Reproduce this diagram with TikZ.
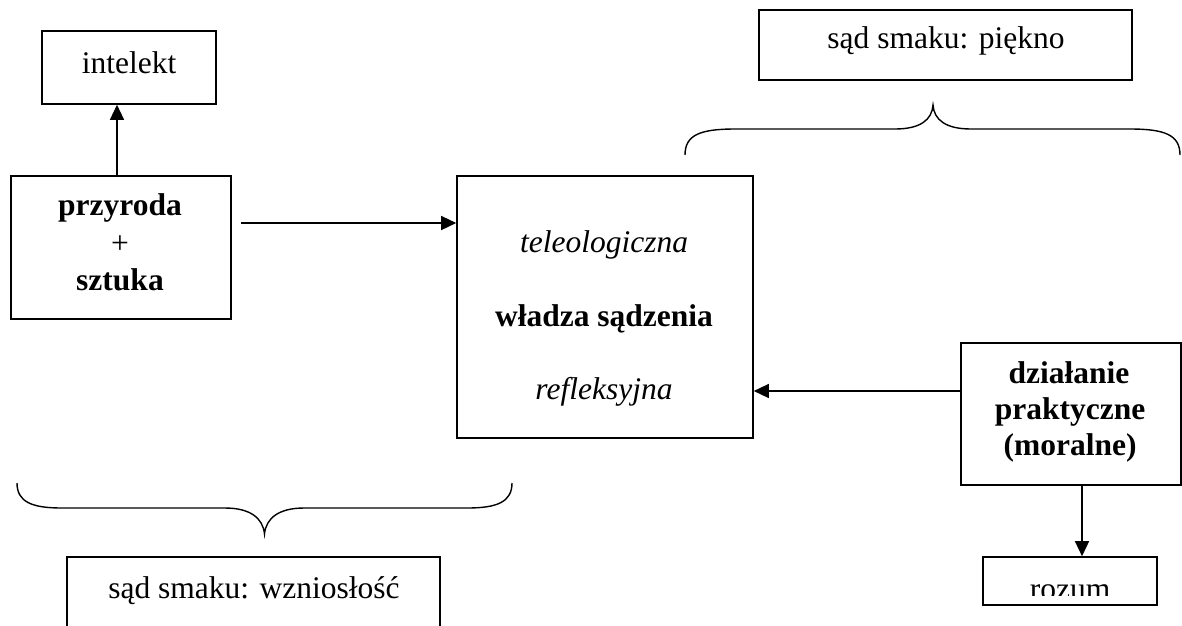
\documentclass[tikz,border=0pt]{standalone}
\usepackage{fontspec}
\setmainfont{Liberation Serif}
\usetikzlibrary{arrows.meta}
\begin{document}
\begin{tikzpicture}[x=1pt,y=-1pt,
  box/.style={draw, line width=1.6pt, rectangle, inner sep=0pt},
  txt/.style={anchor=base, inner sep=0pt, font=\fontsize{31.5}{36}\selectfont},
  conn/.style={line width=1.4pt, -{Triangle[length=15pt,width=14pt]}},
  brace/.style={line width=1.4pt}]
\useasboundingbox (0,0) rectangle (1182,625);
\clip (0,0) rectangle (1182,625);

% boxes
\node[box, minimum width=174pt, minimum height=73pt] (intelekt) at (129,67.5) {};
\node[box, minimum width=220pt, minimum height=143pt] (przyroda) at (121,247.5) {};
\node[box, minimum width=296pt, minimum height=262pt] (wladza) at (605,307) {};
\node[box, minimum width=220pt, minimum height=142pt] (dzialanie) at (1071,414) {};
\node[box, minimum width=174pt, minimum height=48pt] (rozum) at (1070,581) {};
\node[box, minimum width=373pt, minimum height=70pt] (piekno) at (945.5,45) {};
\node[box, minimum width=373pt, minimum height=143pt] (wzniosl) at (253.5,628.5) {};

% texts
\node[txt] (tintelekt) at (129,73) {intelekt};
\node[txt] (tprz1) at (120,215) {\textbf{przyroda}};
\node[txt] (tprz2) at (120,253) {+};
\node[txt] (tprz3) at (120,290) {\textbf{sztuka}};
\node[txt] (tw1) at (604,252) {\textit{teleologiczna}};
\node[txt] (tw2) at (604,326) {\textbf{władza sądzenia}};
\node[txt] (tw3) at (604,399) {\textit{refleksyjna}};
\node[txt] (td1) at (1069,383) {\textbf{działanie}};
\node[txt] (td2) at (1070,419) {\textbf{praktyczne}};
\node[txt] (td3) at (1070,455) {\textbf{(moralne)}};
\node[txt] (tpiekno) at (946,48) {sąd smaku: piękno};
\node[txt] (twzn) at (254,598) {sąd smaku: wzniosłość};
\begin{scope}
  \clip (983,557) rectangle (1157,595);
  \node[txt] (trozum) at (1070,599) {rozum};
\end{scope}

% connectors
\draw[conn] ([xshift=-4pt]przyroda.north) coordinate (s0) -- (s0 |- intelekt.south);
\draw[conn] ([xshift=9pt,yshift=24.5pt]przyroda.east) coordinate (s1) -- (s1 -| wladza.west);
\draw[conn] ([yshift=23pt]dzialanie.west) coordinate (s2) -- (s2 -| wladza.east);
\draw[conn] ([xshift=11pt]dzialanie.south) coordinate (s3) -- (s3 |- rozum.north);

% braces
\draw[brace] (685,155) .. controls (685,135) and (700,129) .. (735,129) -- (895,129)
  .. controls (920,129) and (932,120) .. (933,105)
  .. controls (934,120) and (946,129) .. (971,129) -- (1130,129)
  .. controls (1165,129) and (1180,135) .. (1180,155);
\draw[brace] (17,483) .. controls (17,502) and (32,508) .. (62,508) -- (225,508)
  .. controls (250,508) and (263,518) .. (264.5,534)
  .. controls (266,518) and (279,508) .. (304,508) -- (467,508)
  .. controls (497,508) and (512,502) .. (512,483);
\end{tikzpicture}
\end{document}
